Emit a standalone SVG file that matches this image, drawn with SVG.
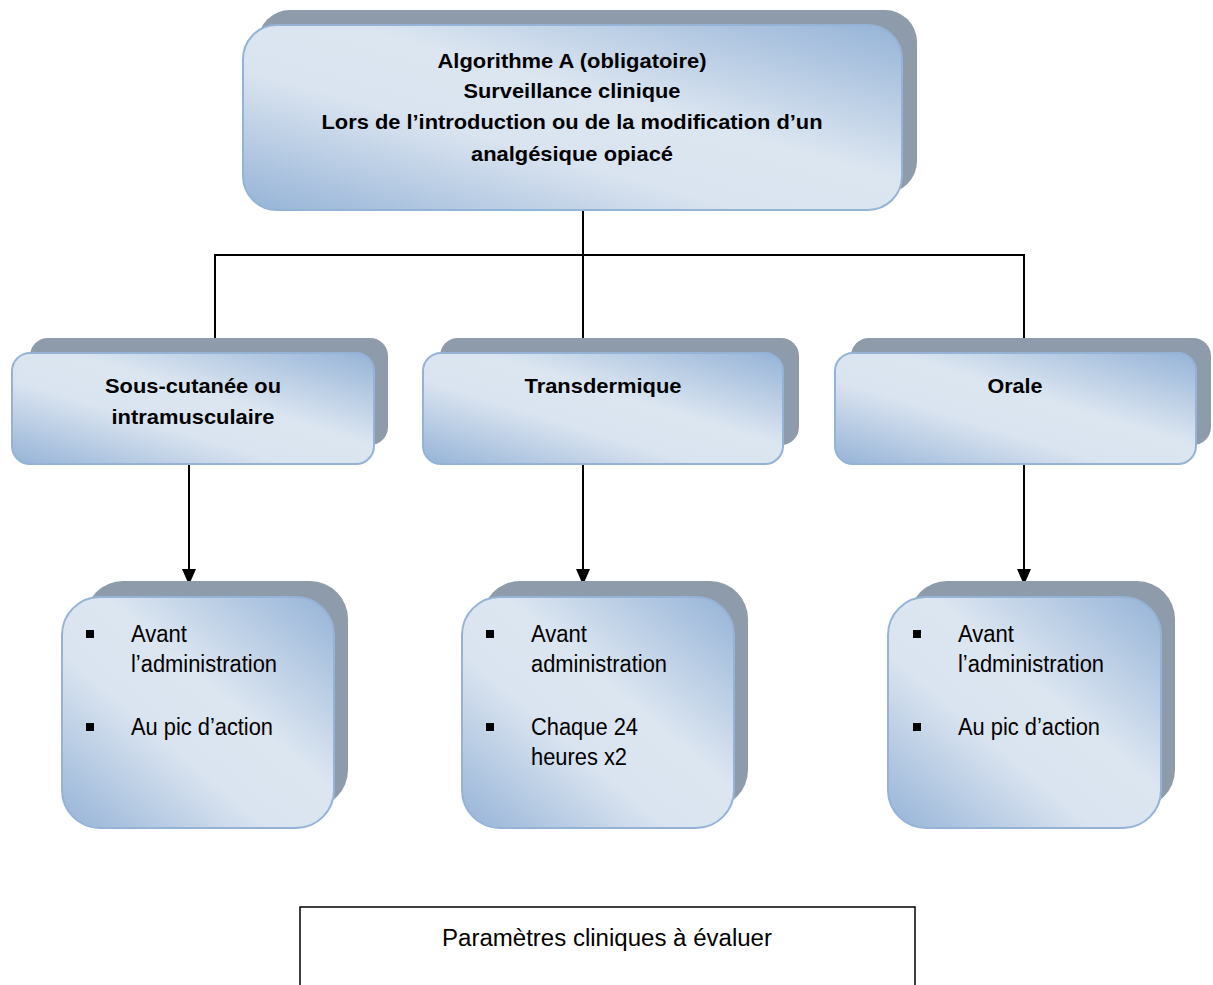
<svg xmlns="http://www.w3.org/2000/svg" width="1213" height="985" viewBox="0 0 1213 985">
<defs>
<linearGradient id="g" x1="0" y1="1" x2="1" y2="0" gradientUnits="objectBoundingBox">
<stop offset="0" stop-color="#95b3d7"/>
<stop offset="0.38" stop-color="#dae4f0"/>
<stop offset="0.58" stop-color="#dce6f1"/>
<stop offset="1" stop-color="#95b3d7"/>
</linearGradient>
<marker id="arr" viewBox="0 0 16 14" refX="16" refY="7" markerWidth="16" markerHeight="14" markerUnits="userSpaceOnUse" orient="auto">
<path d="M0,0 L16,7 L0,14 z" fill="#000"/>
</marker>
</defs>
<style>
.sh{fill:#8e9bab}
.fr{fill:url(#g);stroke:#95b3d7;stroke-width:2}
.b{font-family:"Liberation Sans",Arial,sans-serif;font-weight:bold;font-size:21px;fill:#000;text-anchor:middle}
.r{font-family:"Liberation Sans",Arial,sans-serif;font-size:23px;fill:#000}
.c{stroke:#000;stroke-width:2;fill:none}
.bul{fill:#000}
</style>
<rect width="1213" height="985" fill="#fff"/>
<g id="connectors">
<polyline class="c" points="583,210 583,255"/>
<polyline class="c" points="215,338 215,255 1024,255 1024,338"/>
<line class="c" x1="583" y1="255" x2="583" y2="338"/>
<line class="c" x1="189" y1="464" x2="189" y2="585" marker-end="url(#arr)"/>
<line class="c" x1="583" y1="464" x2="583" y2="585" marker-end="url(#arr)"/>
<line class="c" x1="1024" y1="464" x2="1024" y2="585" marker-end="url(#arr)"/>
</g>
<g id="top">
<rect class="sh" x="258" y="10" width="659" height="183" rx="32"/>
<rect class="fr" x="243" y="25" width="659" height="185" rx="34"/>
<text class="b" x="572" y="68" textLength="269" lengthAdjust="spacingAndGlyphs">Algorithme A (obligatoire)</text>
<text class="b" x="572" y="98" textLength="217" lengthAdjust="spacingAndGlyphs">Surveillance clinique</text>
<text class="b" x="572" y="129" textLength="501" lengthAdjust="spacingAndGlyphs">Lors de l’introduction ou de la modification d’un</text>
<text class="b" x="572" y="161" textLength="202" lengthAdjust="spacingAndGlyphs">analgésique opiacé</text>
</g>
<g id="n-sc">
<rect class="sh" x="30" y="338" width="358" height="107" rx="18"/>
<rect class="fr" x="12" y="353" width="362" height="111" rx="18"/>
<text class="b" x="193" y="393" textLength="176" lengthAdjust="spacingAndGlyphs">Sous-cutanée ou</text>
<text class="b" x="193" y="424" textLength="163" lengthAdjust="spacingAndGlyphs">intramusculaire</text>
</g>
<g id="n-td">
<rect class="sh" x="440" y="338" width="359" height="107" rx="18"/>
<rect class="fr" x="423" y="353" width="360" height="111" rx="18"/>
<text class="b" x="603" y="393" textLength="157" lengthAdjust="spacingAndGlyphs">Transdermique</text>
</g>
<g id="n-or">
<rect class="sh" x="851" y="338" width="360" height="107" rx="18"/>
<rect class="fr" x="835" y="353" width="361" height="111" rx="18"/>
<text class="b" x="1015" y="393" textLength="55" lengthAdjust="spacingAndGlyphs">Orale</text>
</g>
<g id="d-sc">
<rect class="sh" x="85" y="581" width="263" height="227" rx="38"/>
<rect class="fr" x="62" y="597" width="272" height="231" rx="38"/>
<rect class="bul" x="86" y="630" width="8" height="8"/>
<rect class="bul" x="86" y="723" width="8" height="8"/>
<text class="r" x="131" y="642" textLength="56" lengthAdjust="spacingAndGlyphs">Avant</text>
<text class="r" x="131" y="672" textLength="146" lengthAdjust="spacingAndGlyphs">l’administration</text>
<text class="r" x="131" y="735" textLength="142" lengthAdjust="spacingAndGlyphs">Au pic d’action</text>
</g>
<g id="d-td">
<rect class="sh" x="482" y="581" width="266" height="227" rx="38"/>
<rect class="fr" x="462" y="597" width="272" height="231" rx="38"/>
<rect class="bul" x="486" y="630" width="8" height="8"/>
<rect class="bul" x="486" y="723" width="8" height="8"/>
<text class="r" x="531" y="642" textLength="56" lengthAdjust="spacingAndGlyphs">Avant</text>
<text class="r" x="531" y="672" textLength="136" lengthAdjust="spacingAndGlyphs">administration</text>
<text class="r" x="531" y="735" textLength="107" lengthAdjust="spacingAndGlyphs">Chaque 24</text>
<text class="r" x="531" y="765" textLength="96" lengthAdjust="spacingAndGlyphs">heures x2</text>
</g>
<g id="d-or">
<rect class="sh" x="909" y="581" width="266" height="227" rx="38"/>
<rect class="fr" x="888" y="597" width="273" height="231" rx="38"/>
<rect class="bul" x="913" y="630" width="8" height="8"/>
<rect class="bul" x="913" y="723" width="8" height="8"/>
<text class="r" x="958" y="642" textLength="56" lengthAdjust="spacingAndGlyphs">Avant</text>
<text class="r" x="958" y="672" textLength="146" lengthAdjust="spacingAndGlyphs">l’administration</text>
<text class="r" x="958" y="735" textLength="142" lengthAdjust="spacingAndGlyphs">Au pic d’action</text>
</g>
<g id="params">
<rect x="300" y="907" width="615" height="90" fill="#fff" stroke="#000" stroke-width="1.5"/>
<text class="r" x="607" y="946" text-anchor="middle" textLength="330" lengthAdjust="spacingAndGlyphs">Paramètres cliniques à évaluer</text>
</g>
</svg>
